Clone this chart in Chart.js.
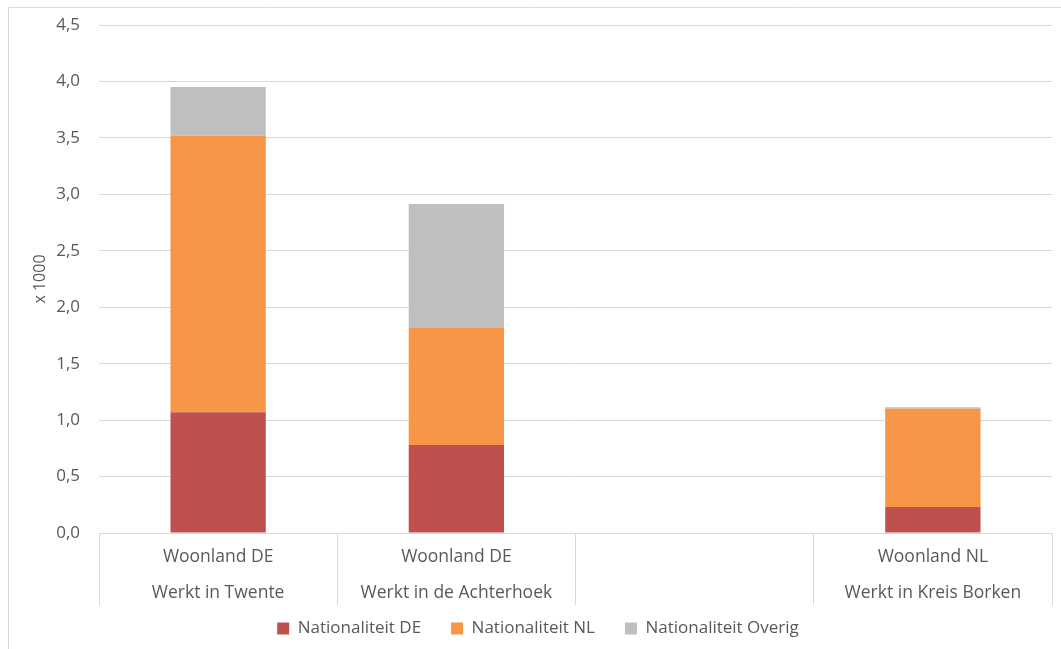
<!DOCTYPE html>
<html>
<head>
<meta charset="utf-8">
<script src="https://cdn.jsdelivr.net/npm/chart.js@4/dist/chart.umd.min.js"></script>
<style>
html,body{margin:0;padding:0;background:#fff;}
#wrap{position:absolute;left:0;top:0;width:1061px;height:649px;}
</style>
</head>
<body>
<div id="wrap"><canvas id="c" width="1061" height="649"></canvas></div>
<script>
const categories = [
  ["Woonland DE", "Werkt in Twente"],
  ["Woonland DE", "Werkt in de Achterhoek"],
  ["", ""],
  ["Woonland NL", "Werkt in Kreis Borken"]
];
const nationaliteitDE = [1.07, 0.78, null, 0.23];
const nationaliteitNL = [2.45, 1.035, null, 0.87];
const nationaliteitOverig = [0.43, 1.10, null, 0.015];
const seriesNames = ["Nationaliteit DE", "Nationaliteit NL", "Nationaliteit Overig"];
const yTicks = [0, 0.5, 1, 1.5, 2, 2.5, 3, 3.5, 4, 4.5];

const textColor = '#595959';
const gridColor = '#d9d9d9';
const fontFamily = "'Open Sans', 'Noto Sans', sans-serif";

const frame = {
  id: 'frame',
  afterLayout(chart) {
    // let the two-line category labels extend below the axis box without clipping
    chart.scales.x.bottom = chart.scales.x.top + 84;
    // nudge the centred legend to the right like the reference
    chart.legend.left += 24;
  },
  beforeDraw(chart) {
    const ctx = chart.ctx;
    ctx.save();
    ctx.strokeStyle = gridColor;
    ctx.lineWidth = 1;
    ctx.beginPath();
    ctx.moveTo(8.5, 649);
    ctx.lineTo(8.5, 7.5);
    ctx.lineTo(1061, 7.5);
    ctx.stroke();
    ctx.restore();
  }
};

new Chart(document.getElementById('c'), {
  type: 'bar',
  data: {
    labels: categories,
    datasets: [
      { label: seriesNames[0], data: nationaliteitDE, backgroundColor: '#C0504D' },
      { label: seriesNames[1], data: nationaliteitNL, backgroundColor: '#F79646' },
      { label: seriesNames[2], data: nationaliteitOverig, backgroundColor: '#BFBFBF' }
    ]
  },
  plugins: [frame],
  options: {
    responsive: false,
    animation: false,
    layout: { padding: { left: 0, right: 9, top: 25, bottom: 2 } },
    datasets: { bar: { categoryPercentage: 1.0, barPercentage: 0.4 } },
    plugins: {
      legend: {
        position: 'bottom',
        labels: {
          color: textColor,
          font: { family: fontFamily, size: 17 },
          boxWidth: 12, boxHeight: 12,
          padding: 30
        }
      },
      tooltip: { enabled: false }
    },
    scales: {
      x: {
        stacked: true,
        grid: {
          offset: true,
          drawOnChartArea: false,
          drawTicks: true,
          tickLength: 72,
          color: gridColor
        },
        border: { display: true, color: gridColor },
        ticks: {
          color: textColor,
          font: { family: fontFamily, size: 17.5, lineHeight: '36px' },
          padding: -66,
          maxRotation: 0, autoSkip: false
        },
        afterFit(scale) { scale.height = 57; }
      },
      y: {
        stacked: true,
        min: 0, max: 4.5,
        afterBuildTicks(scale) { scale.ticks = yTicks.map(v => ({ value: v })); },
        grid: { color: gridColor, drawTicks: false },
        border: { display: false },
        ticks: {
          color: textColor,
          font: { family: fontFamily, size: 17 },
          padding: 19,
          callback: v => Number(v).toFixed(1).replace('.', ',')
        },
        title: {
          display: true, text: 'x 1000', color: textColor,
          font: { family: fontFamily, size: 16 },
          padding: { top: 31, bottom: 0 }
        },
        afterFit(scale) {
          scale.width = 99;
          scale.paddingTop = 0;
          scale.paddingBottom = 0;
        }
      }
    }
  }
});
</script>
</body>
</html>
